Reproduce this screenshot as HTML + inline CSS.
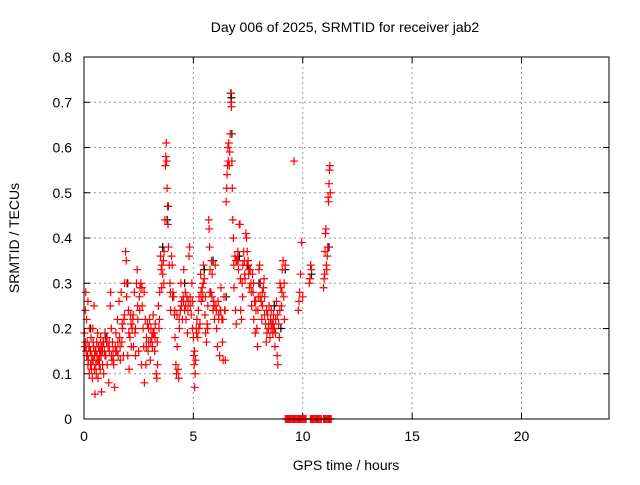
<!DOCTYPE html>
<html><head><meta charset="utf-8"><style>
body{margin:0;background:#fff;}
svg text{font-family:"Liberation Sans",sans-serif;font-size:14px;fill:#000;}
</style></head><body>
<svg id="chart" width="640" height="480" xmlns="http://www.w3.org/2000/svg">
<rect width="640" height="480" fill="#fff"/>
<text x="345" y="32" text-anchor="middle">Day 006 of 2025, SRMTID for receiver jab2</text>
<g id="grid"></g>
<g id="ticks"></g>
<g id="black-series"></g>
<g id="red-series"></g>
<rect x="84" y="57" width="525" height="362" fill="none" stroke="#000" stroke-width="1"/>
<text x="346" y="470" text-anchor="middle">GPS time / hours</text>
<text transform="translate(19,238) rotate(-90)" text-anchor="middle">SRMTID / TECUs</text>
</svg>
<script>
const xTicks=[0,5,10,15,20];
const yTicks=[0,0.1,0.2,0.3,0.4,0.5,0.6,0.7,0.8];
const yTickLabels=["0","0.1","0.2","0.3","0.4","0.5","0.6","0.7","0.8"];
const redPoints=[
[0.02,0.19],[0.04,0.16],[0.06,0.24],[0.08,0.28],[0.1,0.15],[0.12,0.22],[0.14,0.17],[0.16,0.14],[0.18,0.26],[0.2,0.13],[0.22,0.16],[0.24,0.1],[0.26,0.2],[0.28,0.15],[0.3,0.12],[0.32,0.18],[0.34,0.11],[0.36,0.14],[0.38,0.09],[0.4,0.2],[0.42,0.13],[0.44,0.16],[0.46,0.25],[0.48,0.11],[0.5,0.055],[0.52,0.15],[0.54,0.12],[0.56,0.1],[0.58,0.17],[0.6,0.14],[0.62,0.19],[0.64,0.09],[0.66,0.13],[0.68,0.16],[0.7,0.12],[0.72,0.15],[0.74,0.11],[0.76,0.18],[0.78,0.14],[0.8,0.06],[0.82,0.16],[0.85,0.12],[0.88,0.17],[0.9,0.1],[0.93,0.15],[0.96,0.19],[1.0,0.14],[1.03,0.17],[1.06,0.12],[1.1,0.16],[1.13,0.08],[1.16,0.15],[1.2,0.25],[1.22,0.28],[1.25,0.2],[1.28,0.13],[1.3,0.17],[1.33,0.15],[1.36,0.12],[1.4,0.07],[1.43,0.16],[1.46,0.19],[1.5,0.15],[1.53,0.22],[1.56,0.14],[1.6,0.26],[1.63,0.18],[1.66,0.13],[1.7,0.28],[1.73,0.17],[1.76,0.2],[1.8,0.14],[1.83,0.22],[1.86,0.3],[1.9,0.37],[1.93,0.35],[1.96,0.3],[2.0,0.14],[2.03,0.24],[2.06,0.11],[2.1,0.18],[2.13,0.23],[2.16,0.16],[2.2,0.2],[2.23,0.22],[2.26,0.16],[2.3,0.28],[2.33,0.19],[2.36,0.14],[2.4,0.3],[2.43,0.33],[2.46,0.22],[2.5,0.15],[2.53,0.27],[2.56,0.29],[2.6,0.3],[2.63,0.12],[2.66,0.25],[2.7,0.2],[2.73,0.16],[2.76,0.08],[2.8,0.22],[2.83,0.12],[2.86,0.18],[2.9,0.21],[2.93,0.15],[2.96,0.17],[3.0,0.22],[3.03,0.13],[3.06,0.2],[3.1,0.18],[3.13,0.16],[3.16,0.23],[3.2,0.19],[3.23,0.15],[3.26,0.21],[3.3,0.1],[3.33,0.09],[3.36,0.12],[3.4,0.25],[3.43,0.2],[3.46,0.28],[3.5,0.36],[3.53,0.33],[3.56,0.34],[3.6,0.32],[3.63,0.35],[3.66,0.37],[3.7,0.44],[3.72,0.56],[3.74,0.58],[3.76,0.61],[3.78,0.57],[3.8,0.51],[3.82,0.47],[3.84,0.43],[3.86,0.38],[3.9,0.34],[3.93,0.3],[3.96,0.24],[4.0,0.36],[4.03,0.34],[4.06,0.28],[4.1,0.27],[4.13,0.23],[4.16,0.18],[4.2,0.12],[4.23,0.1],[4.26,0.16],[4.3,0.11],[4.33,0.09],[4.36,0.2],[4.4,0.24],[4.43,0.3],[4.46,0.26],[4.5,0.22],[4.53,0.27],[4.56,0.33],[4.6,0.24],[4.63,0.28],[4.66,0.22],[4.7,0.27],[4.73,0.19],[4.76,0.26],[4.8,0.36],[4.83,0.38],[4.86,0.25],[4.9,0.23],[4.93,0.3],[4.96,0.2],[5.0,0.18],[5.02,0.14],[5.04,0.12],[5.06,0.07],[5.08,0.1],[5.1,0.13],[5.13,0.2],[5.16,0.22],[5.2,0.18],[5.23,0.24],[5.26,0.27],[5.3,0.21],[5.33,0.32],[5.36,0.26],[5.4,0.29],[5.43,0.27],[5.46,0.34],[5.5,0.31],[5.53,0.23],[5.56,0.19],[5.6,0.17],[5.63,0.21],[5.66,0.25],[5.7,0.44],[5.72,0.42],[5.74,0.38],[5.76,0.33],[5.8,0.28],[5.83,0.35],[5.86,0.32],[5.9,0.24],[5.93,0.26],[5.96,0.22],[6.0,0.34],[6.03,0.25],[6.06,0.2],[6.1,0.16],[6.13,0.26],[6.16,0.22],[6.2,0.14],[6.23,0.24],[6.26,0.29],[6.3,0.22],[6.33,0.17],[6.36,0.13],[6.4,0.27],[6.43,0.24],[6.46,0.13],[6.5,0.48],[6.52,0.51],[6.54,0.54],[6.56,0.56],[6.58,0.6],[6.6,0.57],[6.62,0.61],[6.64,0.56],[6.66,0.59],[6.68,0.63],[6.7,0.72],[6.72,0.7],[6.74,0.69],[6.76,0.57],[6.78,0.51],[6.8,0.44],[6.83,0.4],[6.86,0.29],[6.9,0.36],[6.93,0.24],[6.96,0.21],[7.0,0.35],[7.03,0.37],[7.06,0.33],[7.1,0.43],[7.13,0.43],[7.16,0.24],[7.2,0.22],[7.23,0.3],[7.26,0.34],[7.3,0.37],[7.33,0.35],[7.36,0.31],[7.4,0.41],[7.43,0.4],[7.46,0.37],[7.5,0.35],[7.53,0.32],[7.56,0.29],[7.6,0.33],[7.63,0.3],[7.66,0.25],[7.7,0.32],[7.73,0.28],[7.76,0.22],[7.8,0.26],[7.83,0.19],[7.86,0.24],[7.9,0.2],[7.93,0.16],[7.96,0.27],[8.0,0.33],[8.03,0.34],[8.06,0.3],[8.1,0.26],[8.13,0.22],[8.16,0.25],[8.2,0.29],[8.23,0.31],[8.26,0.27],[8.3,0.21],[8.33,0.17],[8.36,0.19],[8.4,0.23],[8.43,0.2],[8.46,0.25],[8.5,0.18],[8.53,0.22],[8.56,0.24],[8.6,0.21],[8.63,0.19],[8.66,0.23],[8.7,0.2],[8.73,0.16],[8.76,0.22],[8.8,0.26],[8.83,0.14],[8.86,0.12],[8.9,0.21],[8.93,0.18],[8.96,0.3],[9.0,0.29],[9.03,0.25],[9.06,0.33],[9.1,0.35],[9.13,0.27],[9.16,0.22],[9.2,0.34],
[9.6,0.57],[9.8,0.24],[9.83,0.26],[9.86,0.28],[9.9,0.32],[9.95,0.39],[10.0,0.27],[10.3,0.3],[10.33,0.31],[10.36,0.34],[10.4,0.33],[10.95,0.29],[10.98,0.31],[11.0,0.32],[11.02,0.37],[11.04,0.41],[11.06,0.42],[11.08,0.34],[11.1,0.33],[11.12,0.36],[11.14,0.38],[11.16,0.49],[11.18,0.48],[11.2,0.52],[11.22,0.55],[11.24,0.56],[11.26,0.5],
[0.06,0.17],[0.12,0.14],[0.18,0.12],[0.24,0.16],[0.3,0.15],[0.36,0.13],[0.42,0.17],[0.48,0.14],[0.54,0.15],[0.6,0.13],[0.66,0.16],[0.72,0.14],[0.78,0.16],[0.84,0.15],[0.9,0.17],[0.96,0.14],[1.05,0.18],[1.15,0.17],[1.25,0.14],[1.35,0.13],[1.45,0.15],[1.55,0.17],[1.65,0.16],[1.75,0.21],[1.85,0.23],[1.95,0.27],[2.05,0.19],[2.15,0.21],[2.25,0.23],[2.35,0.2],[2.45,0.25],[2.55,0.24],[2.65,0.29],[2.75,0.28],[2.85,0.16],[2.95,0.2],[3.05,0.17],[3.15,0.19],[3.25,0.18],[3.35,0.17],[3.45,0.22],[3.55,0.29],[3.65,0.3],[3.95,0.28],[4.05,0.27],[4.15,0.24],[4.25,0.23],[4.35,0.22],[4.45,0.25],[4.55,0.26],[4.65,0.25],[4.75,0.24],[4.85,0.27],[4.95,0.26],[5.05,0.15],[5.15,0.19],[5.25,0.2],[5.35,0.28],[5.45,0.3],[5.55,0.27],[5.65,0.2],[5.75,0.28],[5.85,0.27],[5.95,0.25],[6.05,0.24],[6.15,0.23],[6.25,0.24],[6.35,0.22],[6.45,0.24],[6.85,0.34],[6.95,0.35],[7.05,0.35],[7.15,0.31],[7.25,0.27],[7.35,0.32],[7.45,0.34],[7.55,0.33],[7.65,0.28],[7.75,0.3],[7.85,0.26],[7.95,0.24],[8.05,0.27],[8.15,0.28],[8.25,0.23],[8.35,0.24],[8.45,0.21],[8.55,0.2],[8.65,0.21],[8.75,0.19],[8.85,0.23],[8.95,0.24],[9.05,0.28],[9.15,0.3]
];
const blackPoints=[[0.3,0.2],[1.0,0.18],[2.0,0.3],[3.6,0.38],[3.8,0.44],[3.85,0.47],[4.6,0.3],[5.5,0.33],[5.9,0.35],[6.5,0.27],[6.72,0.72],[6.74,0.71],[6.76,0.63],[7.1,0.36],[7.5,0.34],[8.0,0.3],[8.7,0.25],[9.0,0.2],[9.2,0.33],[10.4,0.32],[11.2,0.38]];
const zeroTimes=[9.2,9.25,9.3,9.35,9.4,9.45,9.5,9.55,9.6,9.65,9.7,9.75,9.8,9.85,9.9,9.95,10.0,10.05,10.1,10.15,10.35,10.4,10.45,10.5,10.55,10.6,10.65,10.7,10.75,10.8,10.85,10.95,11.0,11.05,11.1,11.15,11.2,11.25,11.3];

const X0=84,X1=609,Y0=419,Y1=57,XMAX=24,YMAX=0.8;
const xs=t=>X0+(X1-X0)*t/XMAX;
const ys=v=>Y0-(Y0-Y1)*v/YMAX;
const NS="http://www.w3.org/2000/svg";
function mk(tag,attrs,parent){const e=document.createElementNS(NS,tag);for(const k in attrs)e.setAttribute(k,attrs[k]);parent.appendChild(e);return e;}
const grid=document.getElementById('grid'),ticks=document.getElementById('ticks');
xTicks.forEach(t=>{
  const x=xs(t);
  if(t>0){const g=mk('line',{x1:x,x2:x,y1:Y1,y2:Y0,stroke:'#999','stroke-dasharray':'2,3'},grid);
  
  }
  mk('line',{x1:x,x2:x,y1:Y0,y2:Y0-6,stroke:'#000'},ticks);
  mk('line',{x1:x,x2:x,y1:Y1,y2:Y1+6,stroke:'#000'},ticks);
  const l=mk('text',{x:x,y:Y0+22,'text-anchor':'middle'},ticks);l.textContent=t;
  
  
});
yTicks.forEach((v,i)=>{
  const y=ys(v);
  if(v>0&&v<YMAX){const g=mk('line',{x1:X0,x2:X1,y1:y,y2:y,stroke:'#999','stroke-dasharray':'2,3'},grid);
  
  }
  mk('line',{x1:X0,x2:X0+6,y1:y,y2:y,stroke:'#000'},ticks);
  mk('line',{x1:X1,x2:X1-6,y1:y,y2:y,stroke:'#000'},ticks);
  const l=mk('text',{x:X0-12,y:y+5,'text-anchor':'end'},ticks);l.textContent=yTickLabels[i];
  
  
});
function plus(parent,t,v,color){
  const x=xs(t),y=ys(v);
  const p=mk('path',{d:`M${x-4},${y}H${x+4}M${x},${y-4}V${y+4}`,stroke:color,'stroke-width':1.2,fill:'none'},parent);
  
  
}
const bs=document.getElementById('black-series'),rs=document.getElementById('red-series');
blackPoints.forEach(p=>plus(bs,p[0],p[1],'#000'));
redPoints.forEach(p=>plus(rs,p[0],p[1],'#f00'));
zeroTimes.forEach(t=>plus(rs,t,0,'#f00'));
</script>
</body></html>
